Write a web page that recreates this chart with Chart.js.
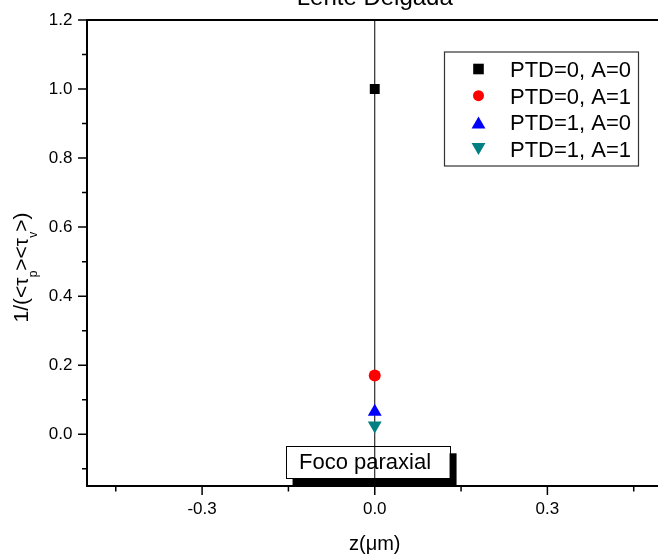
<!DOCTYPE html>
<html><head><meta charset="utf-8">
<script src="https://cdn.jsdelivr.net/npm/chart.js@4"></script>
<style>html,body{margin:0;padding:0;background:#fff;overflow:hidden;width:658px;height:556px}</style>
</head><body>
<canvas id="c" width="680" height="556" style="display:block;width:680px;height:556px"></canvas>
<script>
// ---- data ----
const chartTitle = 'Lente Delgada';
const xAxisTitle = 'z(\u03BCm)';
const seriesLabels = ['PTD=0, A=0', 'PTD=0, A=1', 'PTD=1, A=0', 'PTD=1, A=1'];
const seriesX = [[0], [0], [0], [0]];
const seriesY = [[1.0], [0.17], [0.065], [0.025]];
const focusLineX = [0, 0];
const focusLineY = [-0.15, 1.2];
const xMajorTicks = [-0.3, 0, 0.3];
const xMinorTicks = [-0.45, -0.15, 0.15, 0.45];
const yMajorTicks = [0, 0.2, 0.4, 0.6, 0.8, 1.0, 1.2];
const yMinorTicks = [-0.1, 0.1, 0.3, 0.5, 0.7, 0.9, 1.1];
const annotationText = 'Foco paraxial';

// ---- styles ----
const FONT = "'Liberation Sans', Arial, sans-serif";
const seriesColors = ['#000000', '#ff0000', '#0000ff', '#008080'];
const seriesStyles = ['rect', 'circle', 'triangle', 'triangle'];
const seriesRot = [0, 0, 0, 180];
const seriesRad = [7, 6, 8, 8];
const legendRad = [7.5, 5.5, 8, 8];
const annotationBox = {x0: -0.155, x1: 0.13, y0: -0.035, y1: -0.128};

const datasets = seriesLabels.map((lab, i) => ({
  label: lab,
  data: seriesX[i].map((x, j) => ({x: x, y: seriesY[i][j]})),
  backgroundColor: seriesColors[i],
  borderColor: seriesColors[i],
  pointStyle: seriesStyles[i],
  pointRotation: seriesRot[i],
  pointRadius: seriesRad[i],
  pointBorderWidth: 0,
  showLine: false,
  order: 0
}));
datasets.push({
  label: 'focus',
  data: focusLineX.map((x, j) => ({x: x, y: focusLineY[j]})),
  borderColor: '#000',
  borderWidth: 1,
  pointRadius: 0,
  showLine: true,
  order: 5
});

const decor = {
  id: 'decor',
  beforeDatasetsDraw(chart) {
    const ctx = chart.ctx, xs = chart.scales.x, ys = chart.scales.y;
    const l = xs.getPixelForValue(annotationBox.x0), r = xs.getPixelForValue(annotationBox.x1);
    const t = ys.getPixelForValue(annotationBox.y0), b = ys.getPixelForValue(annotationBox.y1);
    ctx.save();
    ctx.fillStyle = '#000';
    ctx.fillRect(l + 7, t + 7, r - l, b - t);
    ctx.fillStyle = '#fff';
    ctx.fillRect(l, t, r - l, b - t);
    ctx.strokeStyle = '#000'; ctx.lineWidth = 1;
    ctx.strokeRect(Math.round(l) + 0.5, Math.round(t) + 0.5, Math.round(r - l), Math.round(b - t));
    ctx.fillStyle = '#000';
    ctx.font = '22px ' + FONT;
    ctx.textAlign = 'left'; ctx.textBaseline = 'alphabetic';
    ctx.fillText(annotationText, l + 13.5, b - 9);
    ctx.restore();
  },
  afterDraw(chart) {
    const ctx = chart.ctx, ca = chart.chartArea, xs = chart.scales.x, ys = chart.scales.y;
    ctx.save();
    ctx.strokeStyle = '#000';
    // top frame
    ctx.lineWidth = 2;
    ctx.beginPath(); ctx.moveTo(ca.left - 1, ca.top); ctx.lineTo(ca.right + 1, ca.top); ctx.stroke();
    // ticks
    ctx.lineWidth = 1.5;
    ctx.beginPath();
    yMajorTicks.forEach(v => { const y = ys.getPixelForValue(v); ctx.moveTo(ca.left - 9, y); ctx.lineTo(ca.left, y); });
    yMinorTicks.forEach(v => { const y = ys.getPixelForValue(v); ctx.moveTo(ca.left - 5, y); ctx.lineTo(ca.left, y); });
    xMajorTicks.forEach(v => { const x = xs.getPixelForValue(v); ctx.moveTo(x, ca.bottom); ctx.lineTo(x, ca.bottom + 9); });
    xMinorTicks.forEach(v => { const x = xs.getPixelForValue(v); ctx.moveTo(x, ca.bottom); ctx.lineTo(x, ca.bottom + 5.5); });
    ctx.stroke();
    // title (cut by the top edge)
    ctx.fillStyle = '#000';
    ctx.font = '24px ' + FONT;
    ctx.textAlign = 'center'; ctx.textBaseline = 'alphabetic';
    ctx.fillText(chartTitle, (ca.left + ca.right) / 2, 5);
    // y axis title with subscripts
    const parts = [['1/(<\u03C4', 0], ['p', 1], ['><\u03C4', 0], ['v', 1], ['>)', 0]];
    const mainF = '21px ' + FONT, subF = '12px ' + FONT;
    let total = 0;
    parts.forEach(p => { ctx.font = p[1] ? subF : mainF; total += ctx.measureText(p[0]).width; });
    ctx.translate(27.5, 267.5);
    ctx.rotate(-Math.PI / 2);
    ctx.textAlign = 'left';
    let px = -total / 2;
    parts.forEach(p => {
      ctx.font = p[1] ? subF : mainF;
      ctx.fillText(p[0], px, p[1] ? 9 : 0);
      px += ctx.measureText(p[0]).width;
    });
    ctx.restore();
    // legend
    ctx.save();
    const lx0 = 444, ly0 = 51.5, lx1 = 638, ly1 = 165.5;
    ctx.strokeStyle = '#333'; ctx.lineWidth = 1.2;
    ctx.strokeRect(lx0 + 0.5, ly0 + 0.5, lx1 - lx0, ly1 - ly0);
    ctx.font = '22px ' + FONT;
    ctx.textAlign = 'left'; ctx.textBaseline = 'alphabetic';
    seriesLabels.forEach((lab, i) => {
      const cy = 69 + i * 26.7;
      ctx.fillStyle = seriesColors[i];
      const off = seriesStyles[i] === 'triangle' ? (seriesRot[i] ? -2 : 2) : 0;
      Chart.helpers.drawPoint(ctx, {pointStyle: seriesStyles[i], rotation: seriesRot[i], radius: legendRad[i], borderWidth: 0}, 478.5, cy + off);
      ctx.fillStyle = '#000';
      ctx.fillText(lab, 510, cy + 8);
    });
    ctx.restore();
  }
};

Chart.defaults.font.family = FONT;
Chart.defaults.color = '#000';

new Chart(document.getElementById('c'), {
  type: 'scatter',
  data: {datasets: datasets},
  options: {
    responsive: false,
    animation: false,
    devicePixelRatio: 1,
    layout: {padding: {top: 20, right: 17.5, left: 0, bottom: 0}},
    plugins: {legend: {display: false}, tooltip: {enabled: false}, title: {display: false}},
    scales: {
      x: {
        type: 'linear', min: -0.5, max: 0.5,
        afterBuildTicks: s => { s.ticks = xMajorTicks.map(v => ({value: v})); },
        afterFit: s => { s.height = 70; s.paddingLeft = 0; s.paddingRight = 0; },
        ticks: {font: {size: 17}, padding: 13, color: '#000', callback: v => v.toFixed(1), maxRotation: 0},
        grid: {drawOnChartArea: false, drawTicks: false},
        border: {display: true, color: '#000', width: 2},
        title: {display: true, text: xAxisTitle, font: {size: 20}, color: '#000', padding: {top: 0, bottom: 0}}
      },
      y: {
        type: 'linear', min: -0.15, max: 1.2,
        afterBuildTicks: s => { s.ticks = yMajorTicks.map(v => ({value: v})); },
        afterFit: s => { s.width = 87; s.paddingTop = 0; s.paddingBottom = 0; },
        ticks: {font: {size: 17}, padding: 14.5, color: '#000', callback: v => v.toFixed(1)},
        grid: {drawOnChartArea: false, drawTicks: false},
        border: {display: true, color: '#000', width: 2}
      }
    }
  },
  plugins: [decor]
});
</script>
</body></html>
